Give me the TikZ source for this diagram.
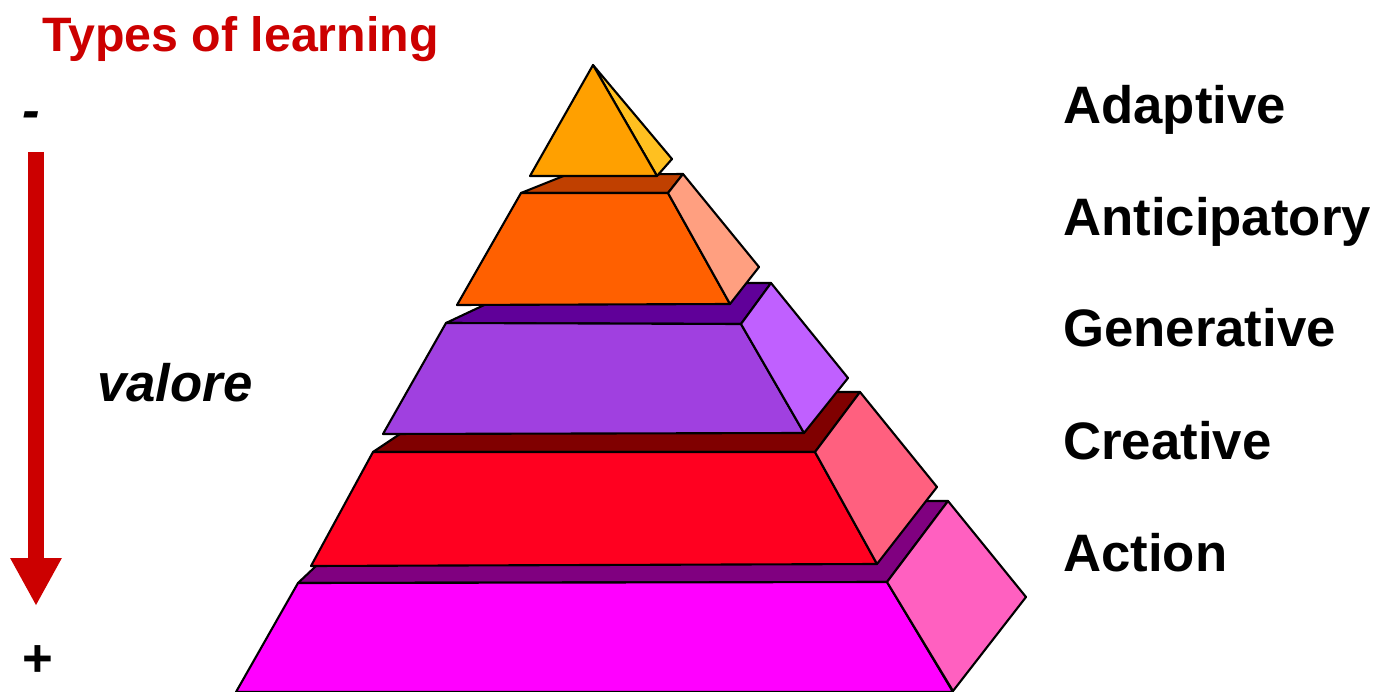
\documentclass[tikz,border=0pt]{standalone}
\usepackage{fontspec}
\setmainfont{Liberation Sans}
\usepackage{xcolor}
\usepackage{tikz}
\usetikzlibrary{arrows.meta}

\definecolor{titlered}{HTML}{CC0000}
\definecolor{tipfront}{HTML}{FFA000}
\definecolor{tipside}{HTML}{FFC020}
\definecolor{orfront}{HTML}{FF6000}
\definecolor{orside}{HTML}{FF9F80}
\definecolor{ortop}{HTML}{C04000}
\definecolor{pufront}{HTML}{A040E0}
\definecolor{puside}{HTML}{C060FF}
\definecolor{putop}{HTML}{600099}
\definecolor{refront}{HTML}{FF0020}
\definecolor{reside}{HTML}{FF607F}
\definecolor{retop}{HTML}{800000}
\definecolor{mafront}{HTML}{FF00FF}
\definecolor{maside}{HTML}{FF60C0}
\definecolor{matop}{HTML}{800080}

\begin{document}
\begin{tikzpicture}[
    x=0.02cm, y=-0.02cm,
    face/.style={draw=black, line width=1.2pt, line join=round},
    level/.style={anchor=base west, inner sep=0pt, font=\fontsize{30}{36}\selectfont\bfseries},
    sign/.style={anchor=base, inner sep=0pt, font=\fontsize{30}{36}\selectfont\bfseries},
    arrow/.style={-{Triangle[length=0.96cm, width=0.96cm]}, line width=0.32cm, titlered},
]
\useasboundingbox (0,0) rectangle (1379,692);

% bottom layer
\filldraw[face, fill=matop] (298,583) -- (385,501) -- (948,501) -- (887,582) -- cycle;
\filldraw[face, fill=mafront] (298,583) -- (887,582) -- (953,692) -- (236,692) -- cycle;
\filldraw[face, fill=maside] (887,582) -- (948,501) -- (1026,597) -- (953,691) -- cycle;

% red layer
\filldraw[face, fill=retop] (373,452) -- (463,392) -- (860,392) -- (815,452) -- cycle;
\filldraw[face, fill=refront] (373,452) -- (815,452) -- (877,564) -- (311,566) -- cycle;
\filldraw[face, fill=reside] (815,452) -- (860,392) -- (937,487) -- (877,564) -- cycle;

% purple layer
\filldraw[face, fill=putop] (446,323) -- (531,283) -- (771,283) -- (741,324) -- cycle;
\filldraw[face, fill=pufront] (446,323) -- (741,324) -- (804,433) -- (383,434) -- cycle;
\filldraw[face, fill=puside] (741,324) -- (771,283) -- (848,378) -- (804,433) -- cycle;

% orange layer
\filldraw[face, fill=ortop] (521,193) -- (566,175) -- (683,174) -- (668,193) -- cycle;
\filldraw[face, fill=orfront] (521,193) -- (668,193) -- (730,304) -- (457,305) -- cycle;
\filldraw[face, fill=orside] (668,193) -- (683,174) -- (759,267) -- (730,304) -- cycle;

% tip
\filldraw[face, fill=tipside] (593,65) -- (672,159) -- (657,176) -- cycle;
\filldraw[face, fill=tipfront] (593,65) -- (657,176) -- (530,176) -- cycle;

% texts
\node[anchor=base west, inner sep=0pt, text=titlered, font=\fontsize{27.5}{32}\selectfont\bfseries] (title) at (42,52) {Types of learning};
\node[level] (adaptive) at (1063,124) {Adaptive};
\node[level] (anticip) at (1063,236) {Anticipatory};
\node[level] (generative) at (1063,347) {Generative};
\node[level] (creative) at (1063,459) {Creative};
\node[level] (action) at (1063,571) {Action};
\node[level, font=\fontsize{30}{36}\selectfont\bfseries\itshape] (valore) at (97,401) {valore};
\node[sign, font=\fontsize{30}{36}\selectfont\bfseries\itshape] (minus) at (31,129) {-};
\node[sign] (plus) at (38,676) {+};

\coordinate (arrtop) at (36,152);
\coordinate (arrtip) at (36,606);
\draw[arrow] (arrtop) -- (arrtip);

\end{tikzpicture}
\end{document}
